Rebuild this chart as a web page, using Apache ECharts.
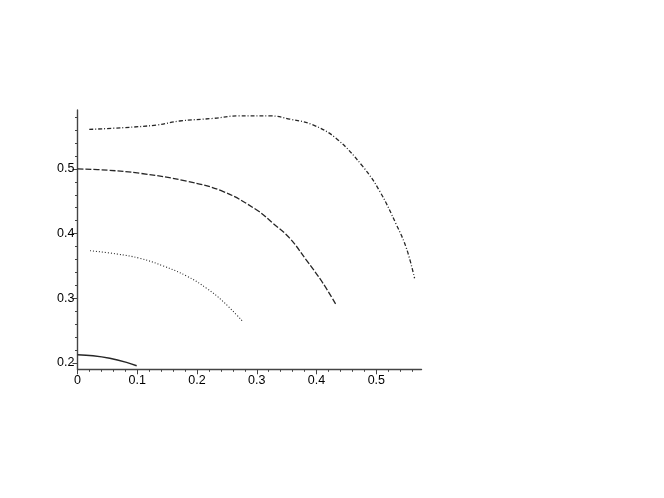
<!DOCTYPE html>
<html>
<head>
<meta charset="utf-8">
<script src="https://cdn.jsdelivr.net/npm/echarts@6/dist/echarts.min.js"></script>
<style>
  html, body { margin: 0; padding: 0; background: #fff; }
  #main { width: 664px; height: 498px; }
</style>
</head>
<body>
<div id="main"></div>
<script>
// curves, [x, y]
var solidX = [0, 0.026, 0.054, 0.082, 0.099];
var solidY = [0.2128, 0.2112, 0.2073, 0.2010, 0.1958];

var dotX = [0.0209, 0.0656, 0.1045, 0.1435, 0.1826, 0.216, 0.244, 0.277];
var dotY = [0.3736, 0.3685, 0.3618, 0.3500, 0.3345, 0.3155, 0.2948, 0.2638];

var dashX = [0, 0.05, 0.1045, 0.183, 0.244, 0.300, 0.327, 0.355, 0.383, 0.411, 0.432];
var dashY = [0.500, 0.498, 0.4932, 0.481, 0.465, 0.4365, 0.416, 0.393, 0.359, 0.323, 0.291];

var dashDotX = [0.0197, 0.0766, 0.1324, 0.171, 0.227, 0.269, 0.322, 0.355, 0.394, 0.433, 0.478, 0.506, 0.534, 0.5505, 0.564];
var dashDotY = [0.561, 0.5637, 0.5678, 0.574, 0.578, 0.582, 0.582, 0.577, 0.568, 0.547, 0.503, 0.465, 0.413, 0.377, 0.331];

// tick labels
var xMajor = [0, 0.1, 0.2, 0.3, 0.4, 0.5];
var xMinor = [0.02, 0.04, 0.06, 0.08, 0.12, 0.14, 0.16, 0.18, 0.22, 0.24, 0.26, 0.28,
              0.32, 0.34, 0.36, 0.38, 0.42, 0.44, 0.46, 0.48, 0.52, 0.54, 0.56];
var yMajor = [0.2, 0.3, 0.4, 0.5];
var yMinor = [0.22, 0.24, 0.26, 0.28, 0.32, 0.34, 0.36, 0.38, 0.42, 0.44, 0.46, 0.48,
              0.52, 0.54, 0.56, 0.58];

function pairs(xs, ys) {
    return xs.map(function (x, i) { return [x, ys[i]]; });
}

var axisColor = '#444';
var labelStyle = { color: '#000', fontFamily: 'Liberation Sans', fontSize: 12.5 };

function curve(name, xs, ys, type, width) {
    return {
        name: name,
        type: 'line',
        xAxisIndex: 0,
        yAxisIndex: 0,
        data: pairs(xs, ys),
        smooth: 0.4,
        showSymbol: false,
        lineStyle: { color: '#262626', width: width, type: type }
    };
}

var chart = echarts.init(document.getElementById('main'));
chart.setOption({
    animation: false,
    backgroundColor: '#fff',
    grid: { left: 77.5, right: 242.5, top: 110, bottom: 128.7 },
    xAxis: [{
        type: 'value', min: 0, max: 0.5756,
        axisLine: { show: true, onZero: false, lineStyle: { color: axisColor, width: 1.4 } },
        axisTick: { show: true, length: 5, customValues: xMajor, lineStyle: { color: axisColor } },
        axisLabel: Object.assign({ customValues: xMajor, margin: 5 }, labelStyle),
        splitLine: { show: false }
    }, {
        type: 'value', min: 0, max: 0.5756, position: 'bottom',
        axisLine: { show: false },
        axisTick: { show: true, length: 2.5, customValues: xMinor, lineStyle: { color: axisColor } },
        axisLabel: { show: false },
        splitLine: { show: false }
    }],
    yAxis: [{
        type: 'value', min: 0.1903, max: 0.591,
        axisLine: { show: true, onZero: false, lineStyle: { color: axisColor, width: 1.4 } },
        axisTick: { show: true, length: 5, customValues: yMajor, lineStyle: { color: axisColor } },
        axisLabel: Object.assign({ customValues: yMajor, margin: 3 }, labelStyle),
        splitLine: { show: false }
    }, {
        type: 'value', min: 0.1903, max: 0.591, position: 'left',
        axisLine: { show: false },
        axisTick: { show: true, length: 2.5, customValues: yMinor, lineStyle: { color: axisColor } },
        axisLabel: { show: false },
        splitLine: { show: false }
    }],
    series: [
        curve('solid', solidX, solidY, 'solid', 1.5),
        curve('dot', dotX, dotY, [1, 2], 1.1),
        curve('dash', dashX, dashY, [6, 2], 1.3),
        curve('dashdot', dashDotX, dashDotY, [4, 2, 1, 2], 1.3)
    ]
});
</script>
</body>
</html>
